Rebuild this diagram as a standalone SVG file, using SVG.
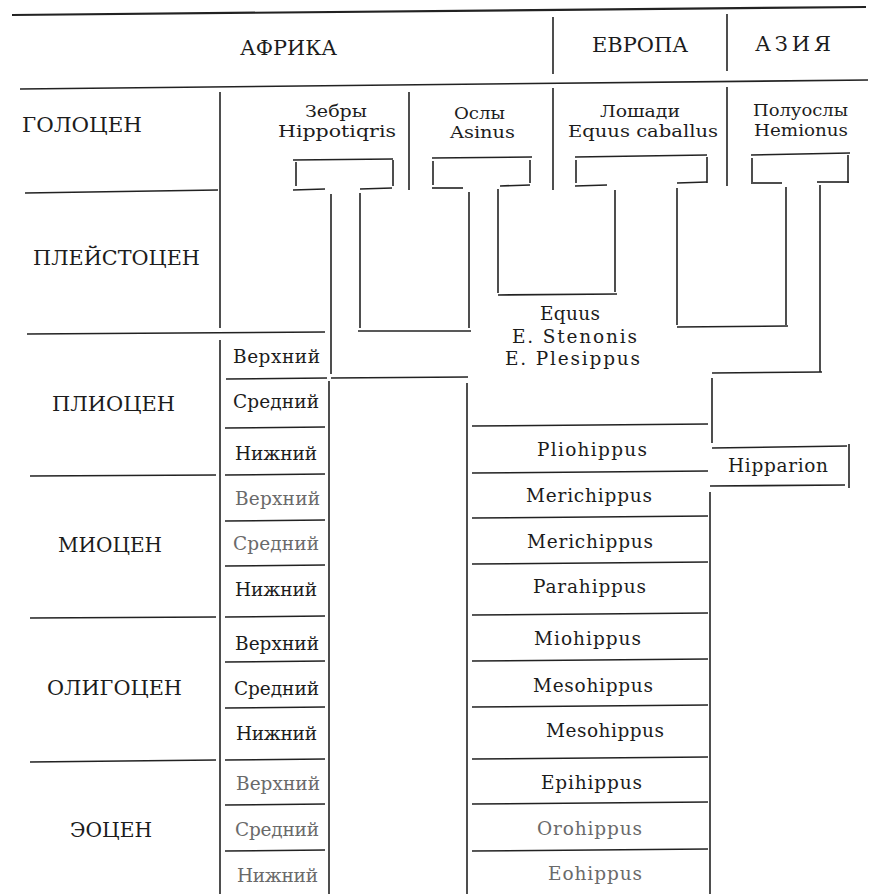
<svg xmlns="http://www.w3.org/2000/svg" width="878" height="894" viewBox="0 0 878 894">
<style>
.t{font-family:"DejaVu Serif","Liberation Serif",serif;fill:#1c1c1c;font-size:18.5px}
.h{font-size:21px}
.s{font-size:16.5px}
.f{fill:#6a6a6a}
.ln line{stroke:#222;stroke-width:1.6;stroke-linecap:butt}
</style>
<rect width="878" height="894" fill="#fff"/>
<g id="grid" class="ln">
<line x1="12" y1="15" x2="866" y2="7" style="stroke-width:2.2"/>
<line x1="20" y1="89" x2="868" y2="80"/>
<line x1="553" y1="17" x2="553" y2="74"/>
<line x1="553" y1="88" x2="553" y2="190"/>
<line x1="727" y1="14" x2="727" y2="71"/>
<line x1="727" y1="87" x2="727" y2="186"/>
<line x1="409" y1="92" x2="409" y2="190"/>
<line x1="220" y1="92" x2="220" y2="328"/>
<line x1="220" y1="340" x2="220" y2="894"/>
<line x1="329" y1="381" x2="329" y2="894"/>
<line x1="25" y1="193" x2="218" y2="190"/>
<line x1="27" y1="334" x2="325" y2="332"/>
<line x1="30" y1="476" x2="216" y2="475"/>
<line x1="30" y1="618" x2="216" y2="617"/>
<line x1="30" y1="762" x2="216" y2="760"/>
<line x1="226" y1="379" x2="327" y2="378"/>
<line x1="225" y1="428" x2="325" y2="427"/>
<line x1="225" y1="475" x2="325" y2="474"/>
<line x1="225" y1="521" x2="325" y2="520"/>
<line x1="225" y1="566" x2="325" y2="565"/>
<line x1="225" y1="617" x2="325" y2="616"/>
<line x1="225" y1="662" x2="325" y2="661"/>
<line x1="225" y1="708" x2="325" y2="707"/>
<line x1="225" y1="760" x2="325" y2="759"/>
<line x1="225" y1="805" x2="325" y2="804"/>
<line x1="225" y1="851" x2="325" y2="850"/>
<line x1="467" y1="383" x2="467" y2="894"/>
<line x1="710" y1="492" x2="710" y2="894"/>
<line x1="472" y1="426" x2="708" y2="424"/>
<line x1="472" y1="473" x2="708" y2="471"/>
<line x1="472" y1="518" x2="708" y2="516"/>
<line x1="472" y1="564" x2="708" y2="562"/>
<line x1="472" y1="615" x2="708" y2="613"/>
<line x1="472" y1="661" x2="708" y2="659"/>
<line x1="472" y1="707" x2="708" y2="705"/>
<line x1="472" y1="759" x2="708" y2="757"/>
<line x1="472" y1="804" x2="708" y2="802"/>
<line x1="472" y1="851" x2="708" y2="849"/>
</g>
<g id="connectors" class="ln">
<line x1="293" y1="160" x2="393" y2="159"/>
<line x1="296" y1="162" x2="296" y2="186"/>
<line x1="393" y1="160" x2="393" y2="186"/>
<line x1="293" y1="190" x2="325" y2="189"/>
<line x1="360" y1="189" x2="392" y2="188"/>
<line x1="331" y1="194" x2="331" y2="374"/>
<line x1="360" y1="193" x2="360" y2="328"/>
<line x1="358" y1="331" x2="471" y2="331"/>
<line x1="469" y1="192" x2="469" y2="328"/>
<line x1="331" y1="378" x2="468" y2="377"/>
<line x1="432" y1="158" x2="532" y2="157"/>
<line x1="433" y1="161" x2="433" y2="185"/>
<line x1="530" y1="160" x2="530" y2="183"/>
<line x1="432" y1="188" x2="463" y2="188"/>
<line x1="500" y1="186" x2="530" y2="185"/>
<line x1="498" y1="189" x2="498" y2="293"/>
<line x1="498" y1="295" x2="617" y2="294"/>
<line x1="615" y1="190" x2="615" y2="292"/>
<line x1="575" y1="157" x2="707" y2="155"/>
<line x1="576" y1="160" x2="576" y2="183"/>
<line x1="707" y1="157" x2="707" y2="183"/>
<line x1="575" y1="186" x2="607" y2="185"/>
<line x1="677" y1="183" x2="707" y2="182"/>
<line x1="677" y1="188" x2="677" y2="325"/>
<line x1="677" y1="327" x2="788" y2="326"/>
<line x1="786" y1="187" x2="786" y2="325"/>
<line x1="751" y1="155" x2="850" y2="153"/>
<line x1="752" y1="158" x2="752" y2="182"/>
<line x1="848" y1="155" x2="848" y2="183"/>
<line x1="751" y1="183" x2="782" y2="183"/>
<line x1="817" y1="182" x2="849" y2="182"/>
<line x1="820" y1="185" x2="820" y2="372"/>
<line x1="712" y1="373" x2="822" y2="372"/>
<line x1="712" y1="378" x2="712" y2="443"/>
<line x1="712" y1="448" x2="847" y2="446"/>
<line x1="849" y1="444" x2="849" y2="488"/>
<line x1="710" y1="486" x2="845" y2="485"/>
</g>
<g id="headers">
<text id="afrika" class="t h" x="240" y="55" textLength="97" lengthAdjust="spacingAndGlyphs">АФРИКА</text>
<text id="evropa" class="t h" x="592" y="52" textLength="96" lengthAdjust="spacingAndGlyphs">ЕВРОПА</text>
<text id="aziya" class="t h" x="755" y="51" textLength="76">АЗИЯ</text>
</g>
<g id="epochs">
<text id="holocene" class="t h" x="22" y="132" textLength="120" lengthAdjust="spacingAndGlyphs">ГОЛОЦЕН</text>
<text id="pleistocene" class="t h" x="33" y="265" textLength="167" lengthAdjust="spacingAndGlyphs">ПЛЕЙСТОЦЕН</text>
<text id="pliocene" class="t h" x="52" y="411" textLength="123" lengthAdjust="spacingAndGlyphs">ПЛИОЦЕН</text>
<text id="miocene" class="t h" x="58" y="552" textLength="104" lengthAdjust="spacingAndGlyphs">МИОЦЕН</text>
<text id="oligocene" class="t h" x="47" y="695" textLength="135" lengthAdjust="spacingAndGlyphs">ОЛИГОЦЕН</text>
<text id="eocene" class="t h" x="70" y="837" textLength="82" lengthAdjust="spacingAndGlyphs">ЭОЦЕН</text>
</g>
<g id="substages">
<text class="t" x="233" y="363" textLength="87">Верхний</text>
<text class="t" x="233" y="408" textLength="86">Средний</text>
<text class="t" x="235" y="460" textLength="82">Нижний</text>
<text class="t f" x="235" y="505" textLength="85">Верхний</text>
<text class="t f" x="233" y="550" textLength="86">Средний</text>
<text class="t" x="235" y="596" textLength="82">Нижний</text>
<text class="t" x="235" y="650" textLength="84">Верхний</text>
<text class="t" x="234" y="695" textLength="85">Средний</text>
<text class="t" x="236" y="740" textLength="81">Нижний</text>
<text class="t f" x="236" y="790" textLength="84">Верхний</text>
<text class="t f" x="235" y="836" textLength="84">Средний</text>
<text class="t f" x="237" y="882" textLength="81">Нижний</text>
</g>
<g id="species">
<g id="zebra"><text class="t s" x="305" y="117" textLength="62" lengthAdjust="spacingAndGlyphs">Зебры</text><text class="t s" x="278" y="137" textLength="118" lengthAdjust="spacingAndGlyphs">Hippotiqris</text></g>
<g id="asinus"><text class="t s" x="454" y="119" textLength="51" lengthAdjust="spacingAndGlyphs">Ослы</text><text class="t s" x="450" y="138" textLength="65" lengthAdjust="spacingAndGlyphs">Asinus</text></g>
<g id="caballus"><text class="t s" x="600" y="117" textLength="80" lengthAdjust="spacingAndGlyphs">Лошади</text><text class="t s" x="568" y="137" textLength="150" lengthAdjust="spacingAndGlyphs">Equus caballus</text></g>
<g id="hemionus"><text class="t s" x="753" y="116" textLength="95" lengthAdjust="spacingAndGlyphs">Полуослы</text><text class="t s" x="754" y="136" textLength="94" lengthAdjust="spacingAndGlyphs">Hemionus</text></g>
</g>
<g id="genera">
<g id="equus"><text class="t" x="540" y="320" textLength="60">Equus</text><text class="t" x="512" y="343" textLength="125">E. Stenonis</text><text class="t" x="505" y="365" textLength="135">E. Plesippus</text></g>
<text id="hipparion" class="t" x="728" y="472" textLength="100">Hipparion</text>
<text id="pliohippus" class="t" x="537" y="456" textLength="110">Pliohippus</text>
<text id="merichippus1" class="t" x="526" y="502" textLength="126">Merichippus</text>
<text id="merichippus2" class="t" x="527" y="548" textLength="126">Merichippus</text>
<text id="parahippus" class="t" x="533" y="593" textLength="113">Parahippus</text>
<text id="miohippus" class="t" x="534" y="645" textLength="107">Miohippus</text>
<text id="mesohippus1" class="t" x="533" y="692" textLength="120">Mesohippus</text>
<text id="mesohippus2" class="t" x="546" y="737" textLength="118">Mesohippus</text>
<text id="epihippus" class="t" x="541" y="789" textLength="101">Epihippus</text>
<text id="orohippus" class="t f" x="537" y="835" textLength="105">Orohippus</text>
<text id="eohippus" class="t f" x="548" y="880" textLength="94">Eohippus</text>
</g>
</svg>
